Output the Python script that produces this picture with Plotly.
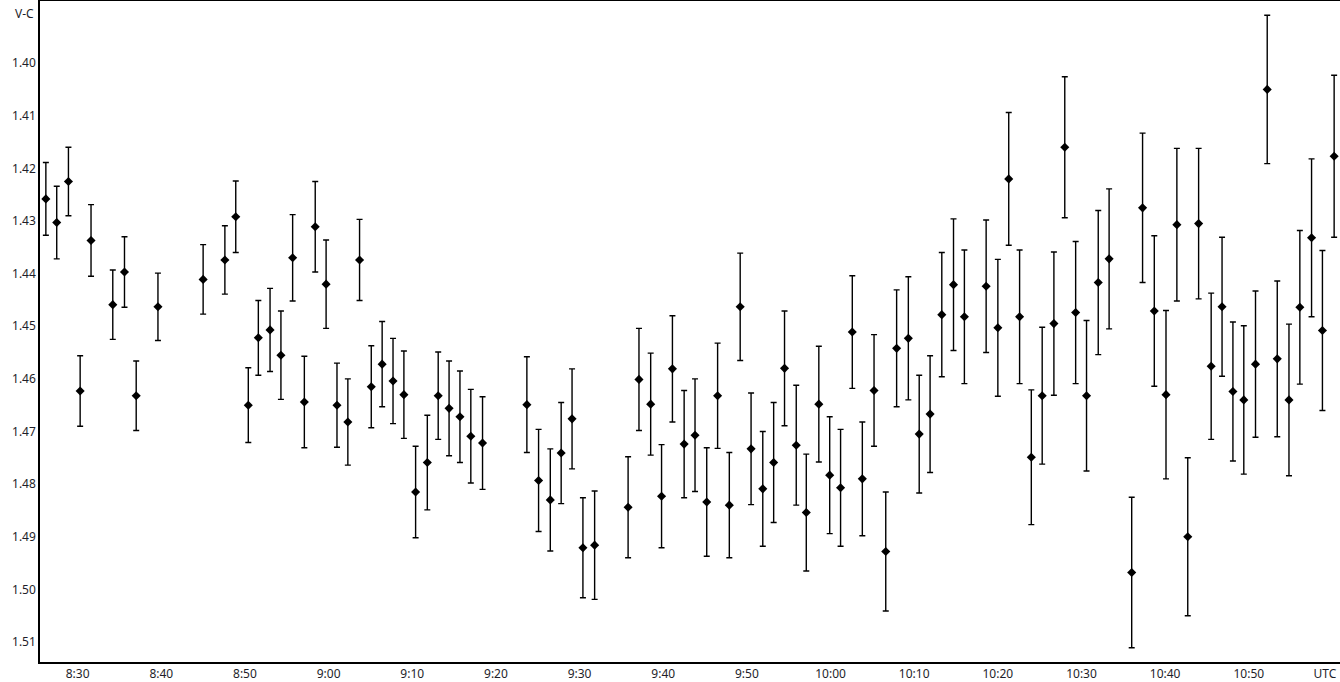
import plotly.graph_objects as go

# observation times, minutes after 0:00 UTC
t_min = [
    506.2, 507.5, 508.9, 510.3, 511.6, 514.2, 515.6, 517.0, 519.6, 525.0,
    527.6, 528.9, 530.4, 531.6, 533.0, 534.3, 535.7, 537.1, 538.4, 539.7,
    541.0, 542.3, 543.7, 545.1, 546.4, 547.7, 549.0, 550.4, 551.8, 553.1,
    554.4, 555.7, 557.0, 558.4, 563.7, 565.1, 566.5, 567.8, 569.1, 570.4,
    571.8, 575.8, 577.1, 578.5, 579.8, 581.1, 582.5, 583.8, 585.2, 586.5,
    587.9, 589.2, 590.5, 591.9, 593.2, 594.5, 595.9, 597.1, 598.6, 599.9,
    601.2, 602.6, 603.8, 605.2, 606.6, 607.9, 609.3, 610.6, 611.9, 613.3,
    614.7, 616.0, 618.6, 620.0, 621.3, 622.6, 624.0, 625.3, 626.7, 628.0,
    629.3, 630.6, 632.0, 633.3, 636.0, 637.3, 638.7, 640.1, 641.4, 642.7,
    644.0, 645.5, 646.8, 648.1, 649.4, 650.8, 652.2, 653.4, 654.8, 656.1,
    657.5, 658.8, 660.2,
]

# V-C differential magnitude
vc = [
    1.4258, 1.4303, 1.4225, 1.4623, 1.4337, 1.4459, 1.4397, 1.4632, 1.4463, 1.4411,
    1.4374, 1.4292, 1.4650, 1.4522, 1.4507, 1.4555, 1.4370, 1.4644, 1.4311, 1.4420,
    1.4650, 1.4682, 1.4374, 1.4615, 1.4572, 1.4604, 1.4630, 1.4815, 1.4759, 1.4632,
    1.4656, 1.4672, 1.4709, 1.4722, 1.4649, 1.4793, 1.4830, 1.4741, 1.4676, 1.4921,
    1.4916, 1.4844, 1.4601, 1.4648, 1.4823, 1.4581, 1.4724, 1.4707, 1.4834, 1.4632,
    1.4840, 1.4463, 1.4733, 1.4809, 1.4759, 1.4580, 1.4726, 1.4854, 1.4648, 1.4783,
    1.4807, 1.4511, 1.4790, 1.4622, 1.4928, 1.4542, 1.4523, 1.4705, 1.4667, 1.4478,
    1.4421, 1.4482, 1.4424, 1.4503, 1.4220, 1.4482, 1.4749, 1.4632, 1.4495, 1.4160,
    1.4474, 1.4632, 1.4417, 1.4372, 1.4968, 1.4275, 1.4471, 1.4630, 1.4307, 1.4900,
    1.4305, 1.4576, 1.4463, 1.4624, 1.4640, 1.4572, 1.4050, 1.4562, 1.4640, 1.4464,
    1.4332, 1.4508, 1.4177,
]

# 1-sigma errors
err = [
    0.0069, 0.0069, 0.0065, 0.0067, 0.0068, 0.0066, 0.0067, 0.0066, 0.0064, 0.0066,
    0.0065, 0.0068, 0.0071, 0.0071, 0.0079, 0.0084, 0.0082, 0.0087, 0.0086, 0.0084,
    0.0080, 0.0082, 0.0077, 0.0078, 0.0081, 0.0081, 0.0083, 0.0087, 0.0090, 0.0083,
    0.0090, 0.0087, 0.0089, 0.0088, 0.0091, 0.0097, 0.0097, 0.0096, 0.0095, 0.0095,
    0.0103, 0.0096, 0.0097, 0.0097, 0.0098, 0.0101, 0.0102, 0.0107, 0.0103, 0.0100,
    0.0100, 0.0102, 0.0106, 0.0109, 0.0114, 0.0109, 0.0114, 0.0111, 0.0110, 0.0111,
    0.0111, 0.0107, 0.0108, 0.0106, 0.0113, 0.0111, 0.0117, 0.0112, 0.0111, 0.0118,
    0.0125, 0.0127, 0.0126, 0.0130, 0.0126, 0.0127, 0.0128, 0.0130, 0.0136, 0.0134,
    0.0135, 0.0143, 0.0137, 0.0133, 0.0143, 0.0142, 0.0143, 0.0160, 0.0145, 0.0150,
    0.0143, 0.0139, 0.0132, 0.0132, 0.0141, 0.0139, 0.0141, 0.0148, 0.0144, 0.0146,
    0.0150, 0.0152, 0.0154,
]

x_tickvals = [510, 520, 530, 540, 550, 560, 570, 580, 590, 600, 610, 620, 630, 640, 650, 659.1]
x_ticktext = ["8:30", "8:40", "8:50", "9:00", "9:10", "9:20", "9:30", "9:40", "9:50",
              "10:00", "10:10", "10:20", "10:30", "10:40", "10:50", "UTC"]
y_tickvals = [1.40, 1.41, 1.42, 1.43, 1.44, 1.45, 1.46, 1.47, 1.48, 1.49, 1.50, 1.51]
y_ticktext = [f"{v:.2f}" for v in y_tickvals]

fig = go.Figure(go.Scatter(
    x=t_min, y=vc, mode="markers",
    marker=dict(symbol="diamond", size=7, color="black"),
    error_y=dict(type="data", array=err, visible=True,
                 color="black", thickness=1.4, width=3),
    hoverinfo="x+y",
))

fig.update_layout(
    width=1340, height=682,
    margin=dict(l=40, r=0, t=1, b=20),
    paper_bgcolor="white", plot_bgcolor="white",
    font=dict(family="Noto Sans", size=12, color="#1e1e2a"),
    showlegend=False,
    xaxis=dict(
        range=[505.5, 660.9], tickvals=x_tickvals, ticktext=x_ticktext,
        showgrid=False, zeroline=False, showline=True, linecolor="black",
        linewidth=1.5, mirror=True, ticks="", ticklabelstandoff=0,
    ),
    yaxis=dict(
        range=[1.5138, 1.3882], tickvals=y_tickvals, ticktext=y_ticktext,
        showgrid=False, zeroline=False, showline=True, linecolor="black",
        linewidth=1.5, ticks="",
    ),
)

fig.add_annotation(text="V-C", xref="paper", yref="paper", x=0, y=1,
                   xanchor="right", yanchor="top", xshift=-4, yshift=-2,
                   showarrow=False, font=dict(size=12, color="#1e1e2a"))

# page body has a default margin; drop it so the chart fills the window
fig.write_html("out.html", config={"displayModeBar": False},
               post_script="document.body.style.margin='0';")
